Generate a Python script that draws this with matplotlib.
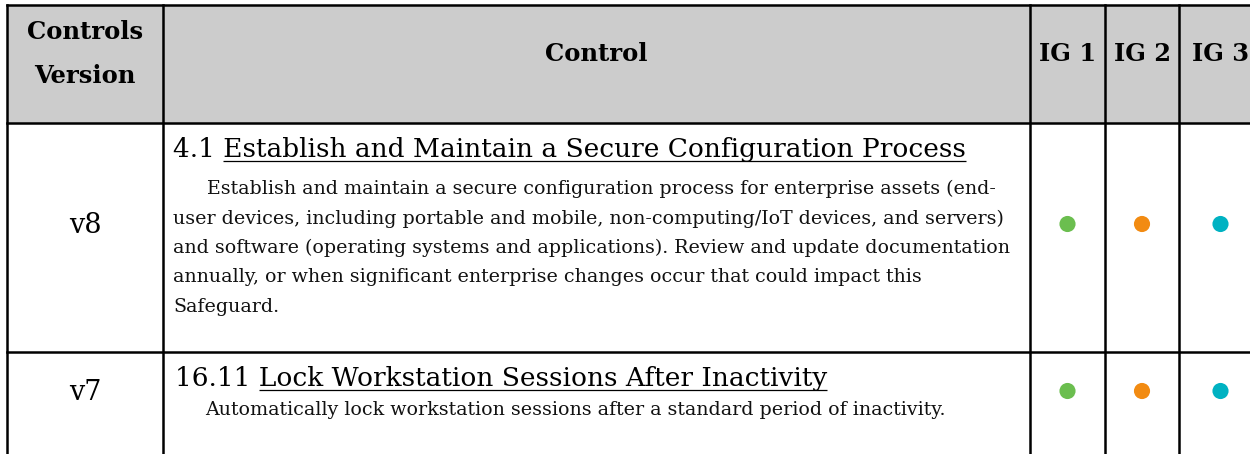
import matplotlib
matplotlib.use('Agg')
import matplotlib.pyplot as plt
from matplotlib.patches import Rectangle

# ---------------- data ----------------
header_version = ['Controls', 'Version']
header_control = 'Control'
ig_labels = ['IG 1', 'IG 2', 'IG 3']
ig_colors = ['#6BBE4F', '#F28B12', '#00B2C2']

versions = ['v8', 'v7']
control_ids = ['4.1', '16.11']
control_titles = ['Establish and Maintain a Secure Configuration Process',
                  'Lock Workstation Sessions After Inactivity']
control_desc = [
    ['Establish and maintain a secure configuration process for enterprise assets (end-',
     'user devices, including portable and mobile, non-computing/IoT devices, and servers)',
     'and software (operating systems and applications). Review and update documentation',
     'annually, or when significant enterprise changes occur that could impact this',
     'Safeguard.'],
    ['Automatically lock workstation sessions after a standard period of inactivity.'],
]
ig_flags = [[True, True, True], [True, True, True]]

# ---------------- layout (pixels) ----------------
W, H = 1250, 454
FONT = ['DejaVu Serif']
col_x = [7, 163, 1030, 1105, 1179, 1262]
row_y = [5, 123, 352, 470]
row_mark_y = [224, 391]
title_base = [157, 386]
desc_base = [194, 415]
desc_step = 29.5
text_x0 = [173, 175]
indent_x = [207, 205]

fig = plt.figure(figsize=(W / 100, H / 100), dpi=100)
ax = fig.add_axes([0, 0, 1, 1])
ax.set_xlim(0, W)
ax.set_ylim(H, 0)
ax.axis('off')
r = fig.canvas.get_renderer()


def width(t):
    return t.get_window_extent(r).width


def fit(t, target):
    t.set_fontsize(t.get_fontsize() * target / width(t))
    return t.get_fontsize()


# header background
ax.add_patch(Rectangle((col_x[0], row_y[0]), col_x[-1] - col_x[0], row_y[1] - row_y[0],
                       facecolor='#CCCCCC', edgecolor='none', zorder=0))

# header texts
cx0 = (col_x[0] + col_x[1]) / 2
t = ax.text(cx0, 39, header_version[0], ha='center', va='baseline', family=FONT,
            weight='bold', fontsize=16)
hsize = fit(t, 116)
ax.text(cx0, 83, header_version[1], ha='center', va='baseline', family=FONT,
        weight='bold', fontsize=hsize)
ax.text((col_x[1] + col_x[2]) / 2, 61, header_control, ha='center', va='baseline',
        family=FONT, weight='bold', fontsize=hsize)
igsize = None
for i, lab in enumerate(ig_labels):
    ti = ax.text((col_x[2 + i] + col_x[3 + i]) / 2, 61, lab, ha='center', va='baseline',
                 family=FONT, weight='bold', fontsize=16)
    if igsize is None:
        igsize = fit(ti, 57)
    else:
        ti.set_fontsize(igsize)

# body
tsize = None
vsize = None
desc_texts = []
for k in range(len(versions)):
    tv = ax.text(cx0, row_mark_y[k] + 9, versions[k], ha='center', va='baseline',
                 family=FONT, fontsize=16)
    if vsize is None:
        vsize = fit(tv, 33)
    else:
        tv.set_fontsize(vsize)
    full = f'{control_ids[k]} {control_titles[k]}'
    tt = ax.text(text_x0[k], title_base[k], full, ha='left', va='baseline',
                 family=FONT, fontsize=20)
    if tsize is None:
        tsize = fit(tt, 962 - text_x0[k])
    else:
        tt.set_fontsize(tsize)
    wf = width(tt)
    tmp = ax.text(0, 0, control_titles[k], family=FONT, fontsize=tsize)
    wr = width(tmp)
    tmp.remove()
    ax.plot([text_x0[k] + wf - wr, text_x0[k] + wf], [title_base[k] + 4] * 2,
            color='black', lw=0.9, solid_capstyle='butt')
    for j, line in enumerate(control_desc[k]):
        x = indent_x[k] if j == 0 else text_x0[k]
        td = ax.text(x, desc_base[k] + j * desc_step, line, ha='left', va='baseline',
                     family=FONT, fontsize=14, color='#111111')
        desc_texts.append(td)
    for i, flag in enumerate(ig_flags[k]):
        if flag:
            ax.scatter([(col_x[2 + i] + col_x[3 + i]) / 2], [row_mark_y[k]], s=135,
                       color=ig_colors[i], edgecolors='none', zorder=3)

dsize = fit(desc_texts[1], 1002 - text_x0[0])
for td in desc_texts:
    td.set_fontsize(dsize)

# grid lines
lw = 1.8
for y in row_y[:-1]:
    ax.plot([col_x[0], col_x[-1]], [y, y], color='black', lw=lw, solid_capstyle='projecting')
for x in col_x[:-1]:
    ax.plot([x, x], [row_y[0], row_y[-1]], color='black', lw=lw, solid_capstyle='projecting')

fig.savefig('out.png', dpi=100)
